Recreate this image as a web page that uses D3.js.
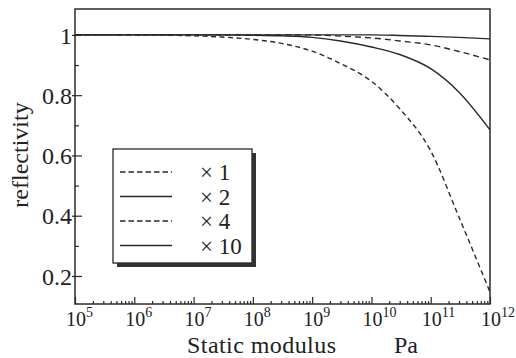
<!DOCTYPE html>
<html>
<head>
<meta charset="utf-8">
<script src="https://cdn.jsdelivr.net/npm/d3@7"></script>
<style>
    body { margin: 0; background: #fff; }
</style>
</head>
<body>
<svg id="chart" width="516" height="358"></svg>
<script>
// static modulus (Pa) sample points
var modulus = [1e5, 1e6, 1e7, 3e7, 1e8, 3e8, 1e9, 3e9, 1e10, 3e10, 1e11, 3e11, 1e12];

// reflectivity, one array per factor
var times1  = [1.0, 1.0, 0.997, 0.993, 0.985, 0.972, 0.946, 0.905, 0.846, 0.755, 0.615, 0.395, 0.147];
var times2  = [1.0, 1.0, 1.0, 1.0, 0.999, 0.997, 0.992, 0.98, 0.96, 0.935, 0.888, 0.81, 0.685];
var times4  = [1.0, 1.0, 1.0, 1.0, 1.0, 1.0, 1.0, 0.996, 0.99, 0.98, 0.967, 0.945, 0.917];
var times10 = [1.0, 1.0, 1.0, 1.0, 1.0, 1.0, 1.0, 1.0, 1.0, 0.998, 0.995, 0.992, 0.987];

var seriesNames = ["\u00d7 1", "\u00d7 2", "\u00d7 4", "\u00d7 10"];
var seriesDash = ["5,3.5", null, "6,4", null];

var xMajor = [1e5, 1e6, 1e7, 1e8, 1e9, 1e10, 1e11, 1e12];
var yMajor = [0.2, 0.4, 0.6, 0.8, 1];
var yMinor = [0.3, 0.5, 0.7, 0.9];

var serif = "'Liberation Serif', Tinos, 'Times New Roman', serif";
var ink = "#2a2a2a";

var svg = d3.select("svg#chart");

var x = d3.scaleLog().domain([1e5, 1e12]).range([75, 490]);
var y = d3.scaleLinear().domain([0.107, 1.086]).range([304, 9]);

// frame
svg.append("rect")
    .attr("x", 75).attr("y", 9)
    .attr("width", 415).attr("height", 295)
    .attr("fill", "none")
    .attr("stroke", ink)
    .attr("stroke-width", 1.5);

// x axis: minor ticks point up into the plot
var xMinor = [];
xMajor.slice(0, -1).forEach(function(d) {
    for (var k = 2; k <= 9; k++) xMinor.push(d * k);
});

var gx = svg.append("g").attr("transform", "translate(0,304)");
gx.call(d3.axisBottom(x).tickValues(xMinor).tickSizeInner(-3).tickSizeOuter(0).tickFormat(""));
gx.append("g").call(d3.axisBottom(x).tickValues(xMajor).tickSizeInner(-7).tickSizeOuter(0).tickFormat(""));
gx.selectAll(".domain").remove();
gx.selectAll("line").attr("stroke", ink).attr("stroke-width", 1.2);

var xl = svg.append("g").selectAll("text")
    .data(xMajor)
    .enter().append("text")
    .attr("x", function(d) { return x(d) - 9; })
    .attr("y", 326)
    .attr("font-size", 20)
    .style("font-family", serif)
    .attr("fill", "#222");
xl.append("tspan").text("10");
xl.append("tspan")
    .attr("dy", -9)
    .attr("font-size", 14)
    .text(function(d) { return Math.round(Math.log10(d)); });

// y axis: ticks cross the frame line
var gy = svg.append("g").attr("transform", "translate(75,0)");
gy.call(d3.axisLeft(y).tickValues(yMinor).tickSizeInner(-4).tickSizeOuter(0).tickFormat(""));
var gyMaj = gy.append("g").call(d3.axisLeft(y).tickValues(yMajor).tickSizeInner(-7).tickSizeOuter(0)
    .tickFormat(function(d) { return d === 1 ? "1" : d3.format(".1f")(d); }));
gyMaj.selectAll("line").attr("x1", -3);
gy.selectAll(".domain").remove();
gy.selectAll("line").attr("stroke", ink).attr("stroke-width", 1.2);
gyMaj.selectAll("text")
    .attr("x", -3)
    .attr("dy", "0.34em")
    .attr("font-size", 24)
    .style("font-family", serif)
    .attr("fill", "#222");

// axis titles
svg.append("text")
    .attr("transform", "translate(28,155) rotate(-90)")
    .attr("text-anchor", "middle")
    .attr("font-size", 24)
    .style("font-family", serif)
    .attr("fill", "#222")
    .text("reflectivity");

svg.append("text")
    .attr("x", 187).attr("y", 353)
    .attr("font-size", 24)
    .attr("textLength", 149)
    .style("font-family", serif)
    .attr("fill", "#222")
    .text("Static modulus");

svg.append("text")
    .attr("x", 394).attr("y", 353)
    .attr("font-size", 24)
    .style("font-family", serif)
    .attr("fill", "#222")
    .text("Pa");

// curves
var allSeries = [times1, times2, times4, times10];

var line = d3.line()
    .x(function(d, i) { return x(modulus[i]); })
    .y(function(d) { return y(d); })
    .curve(d3.curveMonotoneX);

svg.append("g").selectAll("path")
    .data(allSeries)
    .enter().append("path")
    .attr("d", line)
    .attr("fill", "none")
    .attr("stroke", ink)
    .attr("stroke-width", 1.4)
    .attr("stroke-dasharray", function(d, i) { return seriesDash[i]; });

// legend with drop shadow
var legend = svg.append("g");
legend.append("rect")
    .attr("x", 117).attr("y", 153)
    .attr("width", 139).attr("height", 114)
    .attr("fill", "#333");
legend.append("rect")
    .attr("x", 113).attr("y", 149)
    .attr("width", 139).attr("height", 114)
    .attr("fill", "#fff")
    .attr("stroke", ink)
    .attr("stroke-width", 1.3);

var rows = legend.selectAll("g.row")
    .data(seriesNames)
    .enter().append("g")
    .attr("class", "row")
    .attr("transform", function(d, i) { return "translate(0," + (172 + i * 24.5) + ")"; });

rows.append("line")
    .attr("x1", 120).attr("x2", 172)
    .attr("stroke", ink)
    .attr("stroke-width", 1.3)
    .attr("stroke-dasharray", function(d, i) { return seriesDash[i] ? "5.5,3" : null; });

rows.append("text")
    .attr("x", 200)
    .attr("dy", "0.35em")
    .attr("font-size", 23)
    .style("font-family", serif)
    .attr("fill", "#222")
    .text(function(d) { return d; });
</script>
</body>
</html>
